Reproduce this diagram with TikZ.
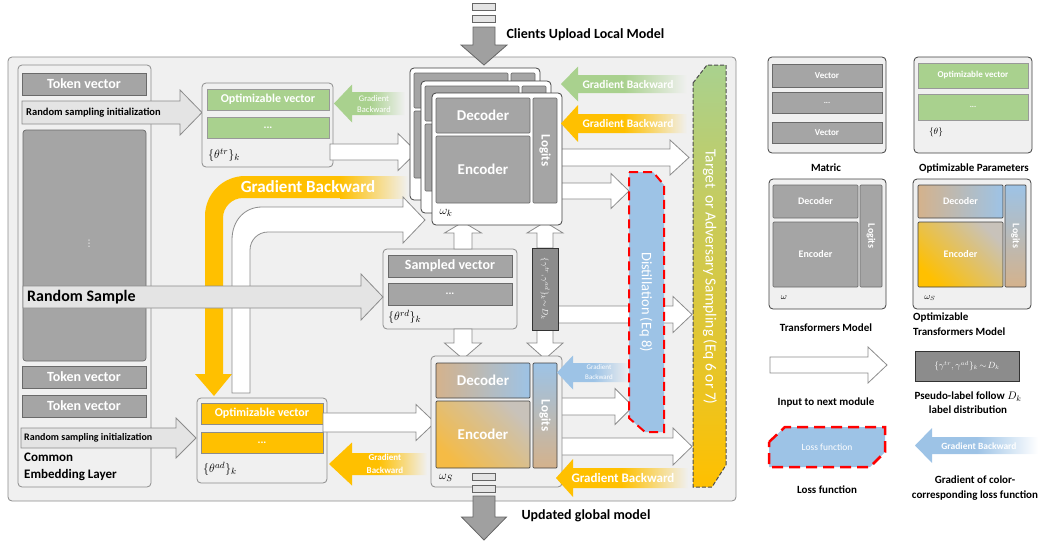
\documentclass[tikz,border=0pt]{standalone}
\usepackage{fontspec}
\setmainfont{Carlito}
\newfontfamily\djv{DejaVu Sans}
\definecolor{bgC}{HTML}{F0F0F0}
\definecolor{arrB}{HTML}{8C8C8C}
\definecolor{vecC}{HTML}{A5A5A5}
\definecolor{vecB}{HTML}{6A6A6A}
\definecolor{grnC}{HTML}{A9D18E}
\definecolor{orgC}{HTML}{FFC000}
\definecolor{bluC}{HTML}{9DC3E6}
\definecolor{tanC}{HTML}{D4B28C}
\definecolor{encT}{HTML}{C8C2BA}
\definecolor{encB}{HTML}{F5BB45}
\definecolor{lgC}{HTML}{E4E4E4}
\definecolor{psC}{HTML}{8C8C8C}
\definecolor{bigG}{HTML}{A0A0A0}
\newcommand\fsz[1]{\fontsize{#1}{#1}\selectfont}
\newcommand\boxat[6]{\node[#1, minimum width={(#5)-(#3)}, minimum height={(#6)-(#4)}] (#2) at ({((#3)+(#5))/2},{((#4)+(#6))/2})}
\newcommand\rarr[7]{\draw[#1] (#2,#5) -- (#3,#5) -- (#3,{(#5+#6)/2-#7}) -- (#4,{(#5+#6)/2}) -- (#3,{(#5+#6)/2+#7}) -- (#3,#6) -- (#2,#6) -- cycle;}
\newcommand\varr[7]{\draw[#1] (#5,#2) -- (#5,#3) -- ({(#5+#6)/2-#7},#3) -- ({(#5+#6)/2},#4) -- ({(#5+#6)/2+#7},#3) -- (#6,#3) -- (#6,#2) -- cycle;}
\newcommand\larr[8]{\shade[left color=#1, right color=#8, middle color=#1] (#4,#5) -- (#3,#5) -- (#3,{(#5+#6)/2-#7}) -- (#2,{(#5+#6)/2}) -- (#3,{(#5+#6)/2+#7}) -- (#3,#6) -- (#4,#6) -- cycle;}
\tikzset{
  panel/.style={draw=arrB, fill=bgC, rounded corners=4pt, line width=0.8pt, inner sep=0pt},
  card/.style={draw=black!75, fill=white, rounded corners=4pt, line width=0.8pt, inner sep=0pt},
  vec/.style={draw=vecB, fill=vecC, text=white, line width=0.7pt, inner sep=0pt, font=\bfseries},
  gvec/.style={draw=black!40, fill=grnC, text=white, line width=0.7pt, inner sep=0pt, font=\bfseries},
  ovec/.style={draw=black!45, fill=orgC, text=white, line width=0.7pt, inner sep=0pt, font=\bfseries},
  shd/.style={draw=black!75, text=white, line width=0.7pt, inner sep=0pt, font=\bfseries},
  warr/.style={draw=arrB, fill=white, line width=0.8pt},
  larrs/.style={draw=arrB, fill=lgC, line width=0.8pt},
  garr/.style={draw=black!60, fill=bigG, line width=0.8pt},
  bar/.style={draw=black!60, fill=lgC, line width=0.7pt},
  lbl/.style={font=\bfseries\fsz{11}, inner sep=0pt, align=center},
  gtxt/.style={text=white, inner sep=0pt, align=center},
}
% back card: outlines only (texts hidden under the front card)
\newcommand\wkback[3]{%
  \node[card, minimum width=130, minimum height=132] (#3) at ({#1+65},{#2+66}) {};
  \boxat{vec, rounded corners=1pt}{#3dec}{#1+4}{#2+5}{#1+98}{#2+40}{};
  \boxat{vec, rounded corners=1pt}{#3enc}{#1+4}{#2+43}{#1+98}{#2+110}{};
  \boxat{vec, rounded corners=1pt}{#3log}{#1+101}{#2+5}{#1+125}{#2+110}{};
}
\newcommand\wkcard[3]{%
  \node[card, minimum width=130, minimum height=132] (#3) at ({#1+65},{#2+66}) {};
  \boxat{vec, rounded corners=1pt, font=\bfseries\fsz{15}}{#3dec}{#1+4}{#2+5}{#1+98}{#2+40}{Decoder};
  \boxat{vec, rounded corners=1pt, font=\bfseries\fsz{15}}{#3enc}{#1+4}{#2+43}{#1+98}{#2+110}{Encoder};
  \boxat{vec, rounded corners=1pt}{#3log}{#1+101}{#2+5}{#1+125}{#2+110}{};
  \node[rotate=-90, text=white, font=\bfseries\fsz{13}] at (#3log) {Logits};
  \node[inner sep=0pt] (#3lab) at ({#1+14},{#2+120}) {\fsz{13}$\omega_k$};
}
\begin{document}
\begin{tikzpicture}[x=1pt, y=-1pt]
\useasboundingbox (0,0) rectangle (1045,544);
% main panel
\boxat{panel}{mainp}{8}{57}{736}{501}{};
% top upload arrow
\boxat{bar}{tb1}{472}{3}{495}{10}{};
\boxat{bar}{tb2}{472}{15}{495}{22}{};
\varr{garr}{27}{45}{65}{473}{495}{23}
\node[anchor=west, font=\bfseries\fsz{14}] (upl) at (503,35) {Clients Upload Local Model};
% common embedding layer
\boxat{panel}{emb}{18}{65}{151}{487}{};
\boxat{vec, font=\bfseries\fsz{14}}{tok1}{22}{73}{146}{95}{Token vector};
\boxat{vec, rounded corners=3pt}{tokbig}{23}{130}{146}{361}{};
\node[text=white, inner sep=0pt, font=\djv\fsz{9}] at (89,244) {⋮};
\boxat{vec, font=\bfseries\fsz{14}}{tok2}{22}{366}{146}{388}{Token vector};
\boxat{vec, font=\bfseries\fsz{14}}{tok3}{22}{395}{146}{417}{Token vector};
\node[anchor=north west, align=left, font=\bfseries\fontsize{13}{16.5}\selectfont, inner sep=0pt] (embl) at (24,453) {Common\\Embedding Layer};
% random sampling init arrows
\rarr{larrs}{22}{180}{202}{101}{124}{22.5}
\node[anchor=west, font=\bfseries\fsz{10.5}, inner sep=0pt] (rsi1) at (26,113) {Random sampling initialization};
\rarr{larrs}{21}{176}{196}{428}{448}{20}
\node[anchor=west, font=\bfseries\fsz{10}, inner sep=0pt] (rsi2) at (24,438) {Random sampling initialization};
% theta tr box
\boxat{panel}{thtr}{202}{83}{333}{167}{};
\boxat{gvec, font=\bfseries\fsz{12}}{thtr1}{207}{89}{329}{110}{Optimizable vector};
\boxat{gvec, font=\bfseries\fsz{11}}{thtr2}{207}{117}{329}{138}{...};
\node[anchor=west, inner sep=0pt] (thtrl) at (208,155) {\fsz{13}$\{\theta^{tr}\}_k$};
% theta ad box
\boxat{panel}{thad}{197}{398}{327}{483}{};
\boxat{ovec, font=\bfseries\fsz{12}}{thad1}{201}{403}{323}{424}{Optimizable vector};
\boxat{ovec, font=\bfseries\fsz{11}}{thad2}{201}{432}{323}{453}{...};
\node[anchor=west, inner sep=0pt] (thadl) at (203,469) {\fsz{13}$\{\theta^{ad}\}_k$};
% theta rd box
\boxat{panel}{thrd}{383}{249}{517}{329}{};
\boxat{vec, font=\bfseries\fsz{14}}{thrd1}{388}{255}{512}{277}{Sampled vector};
\boxat{vec, font=\bfseries\fsz{11}}{thrd2}{388}{283}{512}{305}{...};
\node[anchor=west, inner sep=0pt] (thrdl) at (388,317) {\fsz{13}$\{\theta^{rd}\}_k$};
% orange curved gradient backward
\fill[orgC] (195,374) -- (214,396) -- (232,374) -- (223,374) -- (223,218) .. controls (223,207) and (232,198) .. (243,198) -- (341,198) -- (341,176) -- (245,176) .. controls (223,176) and (205,194) .. (205,216) -- (205,374) -- cycle;
\shade[left color=orgC, right color=bgC] (340,176) rectangle (408,198);
\node[gtxt, font=\bfseries\fsz{17}] (gbbig) at (308,187) {Gradient Backward};
% white bent arrow
\draw[warr] (232,393) -- (232,240) .. controls (232,220) and (245,207) .. (262,207) -- (403,207) -- (403,197) -- (425,220) -- (403,243) -- (403,232) -- (268,232) .. controls (258,232) and (250,240) .. (250,250) -- (250,393) -- cycle;
% random sample arrow
\rarr{larrs}{23}{361}{383}{286}{308}{23}
\node[anchor=west, font=\bfseries\fsz{16}, inner sep=0pt] (rs) at (27,297) {Random Sample};
% white arrows
\rarr{warr}{330}{398}{417}{144}{160}{18.5}
\rarr{warr}{323}{416}{435}{413}{432}{18}
\rarr{warr}{557}{670}{689}{149}{166}{17.5}
\rarr{warr}{557}{611}{629}{183}{199}{17.5}
\rarr{warr}{558}{673}{692}{306}{323}{18}
\rarr{warr}{557}{615}{633}{398}{415}{18}
\rarr{warr}{557}{673}{692}{438}{455}{18.5}
% vertical arrows
\varr{warr}{249}{233}{222}{454}{472}{18.5}
\varr{warr}{248}{233}{222}{537}{553}{18}
\varr{warr}{329}{343}{359}{454}{472}{18.5}
\varr{warr}{330}{343}{359}{537}{553}{18}
% omega k stack
\wkback{410}{68}{wka}
\wkback{421}{81}{wkb}
\wkcard{432}{93}{wkc}
% pseudo label box
\boxat{draw=black!80, fill=psC, line width=0.8pt, inner sep=0pt}{pseudo}{532}{248}{558}{330}{};
\node[rotate=-90, text=white, inner sep=0pt] at (pseudo) {\fsz{8}$\{\gamma^{tr},\gamma^{ad}\}_k\!\sim\! D_k$};
% omega S
\boxat{panel}{ws}{431}{356}{562}{487}{};
\boxat{shd, rounded corners=1pt, left color=tanC, right color=bluC, font=\bfseries\fsz{15}}{wsdec}{436}{363}{530}{398}{Decoder};
\boxat{shd, rounded corners=1pt, top color=encT, bottom color=encB, shading angle=-45, font=\bfseries\fsz{15}}{wsenc}{436}{401}{530}{468}{Encoder};
\boxat{shd, rounded corners=1pt, top color=bluC, bottom color=tanC}{wslog}{533}{363}{557}{468}{};
\node[rotate=-90, text=white, font=\bfseries\fsz{13}] at (wslog) {Logits};
\node[inner sep=0pt] (wsl) at (446,478) {\fsz{13}$\omega_S$};
\boxat{bar}{bb1}{472}{473}{495}{480}{};
\boxat{bar}{bb2}{472}{485}{495}{492}{};
\varr{garr}{496}{517}{540}{473}{495}{22.5}
\node[anchor=west, font=\bfseries\fsz{14}] (upd) at (518,516) {Updated global model};
% gradient backward arrows
\larr{grnC}{561}{578}{687}{75}{93}{17.5}{bgC}
\node[gtxt, font=\bfseries\fsz{11.5}] at (628,85) {Gradient Backward};
\larr{orgC}{561}{578}{687}{114}{133}{18.5}{bgC}
\node[gtxt, font=\bfseries\fsz{11.5}] at (628,124) {Gradient Backward};
\larr{grnC}{334}{352}{405}{92}{115}{19}{bgC}
\node[gtxt, font=\fontsize{8.5}{11}\selectfont] at (374,104) {Gradient\\Backward};
\larr{bluC}{557}{573}{630}{363}{382}{17}{bgC}
\node[gtxt, font=\fontsize{7}{10}\selectfont] at (599,372) {Gradient\\Backward};
\larr{orgC}{329}{352}{427}{453}{475}{21.5}{bgC}
\node[gtxt, font=\bfseries\fontsize{9}{13}\selectfont] at (385,464) {Gradient\\Backward};
\larr{orgC}{556}{573}{688}{468}{488}{19}{bgC}
\node[gtxt, font=\bfseries\fsz{13}] at (623,478) {Gradient Backward};
% distillation
\draw[fill=bluC, draw=red, line width=2pt, dash pattern=on 9pt off 5pt] (629,172) -- (653,172) -- (664,185) -- (664,432) -- (645,432) -- (629,418) -- cycle;
\node[rotate=-90, text=white, font=\fsz{14.5}] (dist) at (646,302) {Distillation (Eq 8)};
% target sampling
\draw[top color=grnC, bottom color=orgC, draw=black!70, line width=1pt, dash pattern=on 4pt off 2pt] (693,83) -- (707,65) -- (726,65) -- (726,465) -- (712,487) -- (693,487) -- cycle;
\node[rotate=-90, text=white, font=\fsz{15.5}] (tgt) at (710,277) {Target~~or Adversary Sampling (Eq 6 or 7)};
% ================= legend
\boxat{card, fill=bgC}{lmat}{768}{57}{886}{153}{};
\boxat{vec, font=\bfseries\fsz{9}}{lm1}{772}{64}{882}{87}{Vector};
\boxat{vec, font=\bfseries\fsz{8}}{lm2}{772}{92}{882}{113}{...};
\boxat{vec, font=\bfseries\fsz{9}}{lm3}{772}{122}{882}{143}{Vector};
\node[lbl] at (826,168) {Matric};
\boxat{card, fill=bgC}{lopt}{914}{57}{1032}{153}{};
\boxat{gvec, font=\bfseries\fsz{9}}{lo1}{918}{63}{1028}{88}{Optimizable vector};
\boxat{gvec, font=\bfseries\fsz{8}}{lo2}{918}{94}{1028}{120}{...};
\node[inner sep=0pt] at (936,132) {\fsz{9}$\{\theta\}$};
\node[lbl] at (974,168) {Optimizable Parameters};
% legend transformer
\boxat{card, fill=bgC}{ltr}{769}{179}{886}{309}{};
\boxat{vec, rounded corners=1pt, font=\bfseries\fsz{10}}{ltrd}{773}{185}{858}{218}{Decoder};
\boxat{vec, rounded corners=1pt, font=\bfseries\fsz{10}}{ltre}{773}{222}{858}{287}{Encoder};
\boxat{vec, rounded corners=1pt}{ltrl}{860}{185}{882}{287}{};
\node[rotate=-90, text=white, font=\bfseries\fsz{10}] at (ltrl) {Logits};
\node[inner sep=0pt] at (784,298) {\fsz{9}$\omega$};
\node[lbl] at (826,328) {Transformers Model};
\boxat{card, fill=bgC}{lot}{913}{179}{1031}{309}{};
\boxat{shd, rounded corners=1pt, left color=tanC, right color=bluC, font=\bfseries\fsz{10}}{lotd}{918}{185}{1003}{218}{Decoder};
\boxat{shd, rounded corners=1pt, top color=encT, bottom color=orgC, shading angle=-45, font=\bfseries\fsz{10}}{lote}{918}{222}{1003}{287}{Encoder};
\boxat{shd, rounded corners=1pt, top color=bluC, bottom color=tanC}{lotl}{1005}{185}{1026}{287}{};
\node[rotate=-90, text=white, font=\bfseries\fsz{10}] at (lotl) {Logits};
\node[inner sep=0pt] at (930,298) {\fsz{9}$\omega_S$};
\node[lbl, anchor=north west, align=left, font=\bfseries\fontsize{11}{15}\selectfont] at (913,313) {Optimizable\\Transformers Model};
% legend arrow
\rarr{warr}{770}{868}{887}{357}{373}{18}
\node[lbl] at (826,402) {Input to next module};
\boxat{draw=black!80, fill=psC, line width=0.8pt, inner sep=0pt}{lps}{915}{351}{1019}{381}{};
\node[text=white, inner sep=0pt] at (lps) {\fsz{9}$\{\gamma^{tr},\gamma^{ad}\}_k\!\sim\! D_k$};
\node[lbl, font=\bfseries\fontsize{11}{14}\selectfont] at (968,403) {Pseudo-label follow $D_k$\\label distribution};
\draw[fill=bluC, draw=red, line width=2.5pt, dash pattern=on 11pt off 6pt] (769,442) -- (785,427) -- (885,427) -- (885,452) -- (870,467) -- (769,467) -- cycle;
\node[text=white, font=\fsz{9.5}] at (827,447) {Loss function};
\node[lbl] at (827,490) {Loss function};
\larr{bluC}{915}{932}{1038}{437}{454}{17.5}{white}
\node[gtxt, font=\bfseries\fsz{9.5}] at (979,446) {Gradient Backward};
\node[lbl, font=\bfseries\fontsize{11}{15}\selectfont] at (975,488) {Gradient of color-\\corresponding loss function};
\end{tikzpicture}
\end{document}
